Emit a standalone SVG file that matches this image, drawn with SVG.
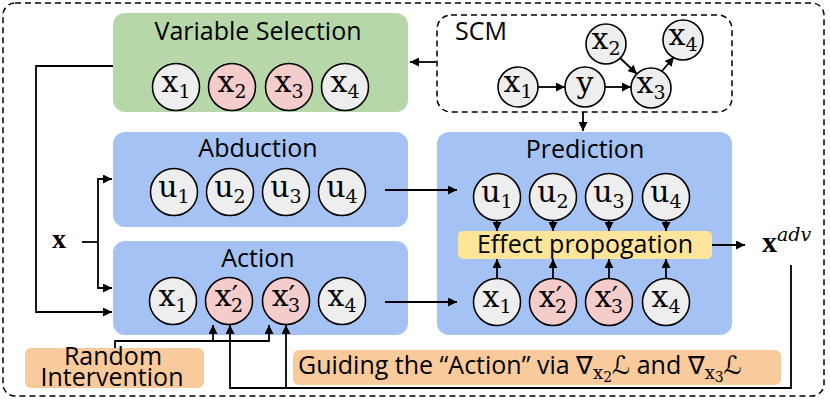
<svg xmlns="http://www.w3.org/2000/svg" width="830" height="402" viewBox="0 0 830 402">
<defs>
<marker id="ah" viewBox="0 0 10 10" refX="10" refY="5" markerWidth="9" markerHeight="9" markerUnits="userSpaceOnUse" orient="auto">
<path d="M0,0 L10,5 L0,10 z" fill="#000"/>
</marker>
<style>
.t{font-family:"Open Sans","Liberation Sans",sans-serif;font-size:25px;fill:#000}
.v{font-family:"DejaVu Serif","Liberation Serif",serif;font-size:30px;fill:#000;text-anchor:middle}
.s{font-size:19px}
.p{font-size:28px}
.c{stroke:#000;stroke-width:1.6}
.g{fill:#eeeeee}
.r{fill:#f4cccc}
.ln{fill:none;stroke:#000;stroke-width:1.8}
.a{marker-end:url(#ah)}
.blue{fill:#a4c2f4}
</style>
</defs>
<rect x="3" y="3" width="821" height="393" rx="12" fill="none" stroke="#000" stroke-width="1.5" stroke-dasharray="6,4"/>

<g id="varsel">
<rect x="113" y="13" width="295" height="99" rx="12" fill="#b6d7a8"/>
<text class="t" x="258" y="40" text-anchor="middle">Variable Selection</text>
<circle class="c g" cx="176" cy="87" r="23.5"/><text class="v" x="176" y="92">x<tspan class="s" dy="6">1</tspan></text>
<circle class="c r" cx="232" cy="87" r="23.5"/><text class="v" x="232" y="92">x<tspan class="s" dy="6">2</tspan></text>
<circle class="c r" cx="289" cy="87" r="23.5"/><text class="v" x="289" y="92">x<tspan class="s" dy="6">3</tspan></text>
<circle class="c g" cx="345" cy="87" r="23.5"/><text class="v" x="345" y="92">x<tspan class="s" dy="6">4</tspan></text>
</g>

<g id="scm">
<rect x="437" y="15" width="295" height="97" rx="14" fill="none" stroke="#000" stroke-width="1.5" stroke-dasharray="6,4"/>
<text class="t" x="455" y="40">SCM</text>
<circle class="c g" cx="518" cy="87" r="20"/><text class="v" x="518" y="92">x<tspan class="s" dy="6">1</tspan></text>
<circle class="c g" cx="585" cy="87" r="20"/><text class="v" x="585" y="93">y</text>
<circle class="c g" cx="651" cy="88" r="20"/><text class="v" x="651" y="93">x<tspan class="s" dy="6">3</tspan></text>
<circle class="c g" cx="606" cy="44" r="20"/><text class="v" x="606" y="49">x<tspan class="s" dy="6">2</tspan></text>
<circle class="c g" cx="683" cy="40" r="20"/><text class="v" x="683" y="45">x<tspan class="s" dy="6">4</tspan></text>
<g class="ln">
<line class="a" x1="538" y1="87" x2="565" y2="87"/>
<line class="a" x1="605" y1="87" x2="631" y2="87"/>
<line class="a" x1="620" y1="58" x2="637" y2="74"/>
<line class="a" x1="662" y1="71" x2="674" y2="57"/>
</g>
</g>

<g id="abduction">
<rect class="blue" x="113" y="132" width="295" height="95" rx="12"/>
<text class="t" x="258" y="157" text-anchor="middle">Abduction</text>
<circle class="c g" cx="174" cy="192" r="23.5"/><text class="v" x="174" y="197">u<tspan class="s" dy="6">1</tspan></text>
<circle class="c g" cx="230" cy="192" r="23.5"/><text class="v" x="230" y="197">u<tspan class="s" dy="6">2</tspan></text>
<circle class="c g" cx="286" cy="192" r="23.5"/><text class="v" x="286" y="197">u<tspan class="s" dy="6">3</tspan></text>
<circle class="c g" cx="342" cy="192" r="23.5"/><text class="v" x="342" y="197">u<tspan class="s" dy="6">4</tspan></text>
</g>

<g id="action">
<rect class="blue" x="113" y="241" width="295" height="94" rx="12"/>
<text class="t" x="258" y="267" text-anchor="middle">Action</text>
<circle class="c g" cx="173" cy="301" r="23.5"/><text class="v" x="173" y="306">x<tspan class="s" dy="6">1</tspan></text>
<circle class="c r" cx="229" cy="301" r="23.5"/><text class="v" x="229" y="306">x<tspan class="p">′</tspan><tspan class="s" dx="-7" dy="6">2</tspan></text>
<circle class="c r" cx="286" cy="301" r="23.5"/><text class="v" x="286" y="306">x<tspan class="p">′</tspan><tspan class="s" dx="-7" dy="6">3</tspan></text>
<circle class="c g" cx="342" cy="301" r="23.5"/><text class="v" x="342" y="306">x<tspan class="s" dy="6">4</tspan></text>
</g>

<g id="prediction">
<rect class="blue" x="437" y="132" width="295" height="203" rx="12"/>
<text class="t" x="585" y="158" text-anchor="middle">Prediction</text>
<circle class="c g" cx="497" cy="197" r="23.5"/><text class="v" x="497" y="202">u<tspan class="s" dy="6">1</tspan></text>
<circle class="c g" cx="553" cy="197" r="23.5"/><text class="v" x="553" y="202">u<tspan class="s" dy="6">2</tspan></text>
<circle class="c g" cx="609" cy="197" r="23.5"/><text class="v" x="609" y="202">u<tspan class="s" dy="6">3</tspan></text>
<circle class="c g" cx="666" cy="197" r="23.5"/><text class="v" x="666" y="202">u<tspan class="s" dy="6">4</tspan></text>
<circle class="c g" cx="497" cy="302" r="23.5"/><text class="v" x="497" y="307">x<tspan class="s" dy="6">1</tspan></text>
<circle class="c r" cx="553" cy="302" r="23.5"/><text class="v" x="553" y="307">x<tspan class="p">′</tspan><tspan class="s" dx="-7" dy="6">2</tspan></text>
<circle class="c r" cx="609" cy="302" r="23.5"/><text class="v" x="609" y="307">x<tspan class="p">′</tspan><tspan class="s" dx="-7" dy="6">3</tspan></text>
<circle class="c g" cx="666" cy="302" r="23.5"/><text class="v" x="666" y="307">x<tspan class="s" dy="6">4</tspan></text>
</g>

<g id="effect">
<rect x="458" y="231" width="254" height="28" rx="5" fill="#ffe599"/>
<text class="t" x="585" y="253" text-anchor="middle">Effect propogation</text>
</g>

<g id="input">
<text x="52" y="248" font-family="Liberation Serif,serif" font-weight="bold" font-size="28">x</text>
</g>

<g id="xadv">
<text x="762" y="252" font-family="Liberation Serif,serif" font-weight="bold" font-size="30">x<tspan font-family="DejaVu Serif,serif" font-weight="normal" font-style="italic" font-size="19" dy="-11">adv</tspan></text>
</g>

<g id="random">
<rect x="25" y="348" width="179" height="40" rx="6" fill="#f9cb9c"/>
<text class="t" x="113" y="365" text-anchor="middle">Random</text>
<text class="t" x="112" y="386" text-anchor="middle">Intervention</text>
</g>

<g id="guide">
<rect x="293" y="350" width="488" height="35" rx="6" fill="#f9cb9c"/>
<text class="t" x="298" y="374">Guiding the “Action” via ∇<tspan font-family="DejaVu Serif,serif" font-size="18" dy="5">x</tspan><tspan font-family="DejaVu Serif,serif" font-size="14" dy="3">2</tspan><tspan font-family="DejaVu Sans,serif" font-style="italic" dy="-8">ℒ</tspan> and ∇<tspan font-family="DejaVu Serif,serif" font-size="18" dy="5">x</tspan><tspan font-family="DejaVu Serif,serif" font-size="14" dy="3">3</tspan><tspan font-family="DejaVu Sans,serif" font-style="italic" dy="-8">ℒ</tspan></text>
</g>

<g id="connectors" class="ln">
<line class="a" x1="436" y1="62" x2="410" y2="62"/>
<polyline class="a" points="113,66 36,66 36,312 112,312"/>
<line x1="82" y1="242" x2="98" y2="242"/>
<polyline class="a" points="98,242 98,179 112,179"/>
<polyline class="a" points="98,242 98,288 112,288"/>
<line class="a" x1="583" y1="112" x2="583" y2="131"/>
<line class="a" x1="385" y1="190" x2="457" y2="190"/>
<line class="a" x1="385" y1="302" x2="457" y2="302"/>
<line class="a" x1="497" y1="221" x2="497" y2="231"/>
<line class="a" x1="553" y1="221" x2="553" y2="231"/>
<line class="a" x1="609" y1="221" x2="609" y2="231"/>
<line class="a" x1="666" y1="221" x2="666" y2="231"/>
<line class="a" x1="497" y1="278" x2="497" y2="259"/>
<line class="a" x1="553" y1="278" x2="553" y2="259"/>
<line class="a" x1="609" y1="278" x2="609" y2="259"/>
<line class="a" x1="666" y1="278" x2="666" y2="259"/>
<line class="a" x1="712" y1="245" x2="745" y2="245"/>
<polyline class="a" points="791,265 791,388 230,388 230,325"/>
<line class="a" x1="286" y1="388" x2="286" y2="325"/>
<polyline class="a" points="115,348 115,341 269,341 269,325"/>
<line class="a" x1="213" y1="341" x2="213" y2="325"/>
</g>
</svg>
